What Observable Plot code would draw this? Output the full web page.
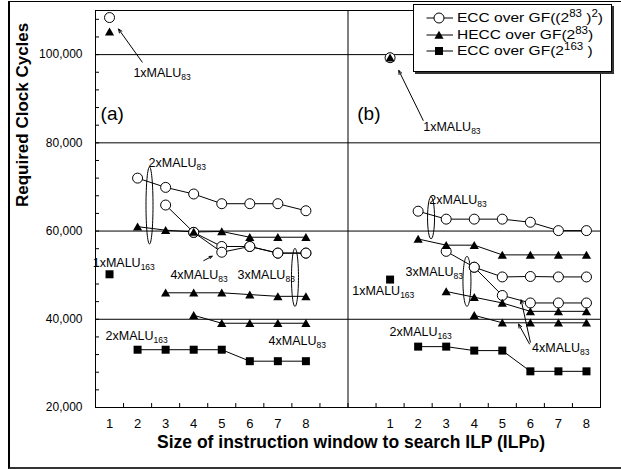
<!DOCTYPE html>
<html>
<head>
<meta charset="utf-8">
<script src="https://cdn.jsdelivr.net/npm/d3@7"></script>
<script src="https://cdn.jsdelivr.net/npm/@observablehq/plot@0.6"></script>
<style>
  body { margin: 0; background: #fff; font-family: "Liberation Sans", Arial, sans-serif; }
  #wrap { position: relative; width: 621px; height: 469px; overflow: hidden; background: #fff; }
  #chart svg { display: block; }
  #frame { position: absolute; left: 8px; top: 1px; width: 640px; height: 468px; box-sizing: border-box;
           border-left: 2px solid #000; border-top: 1px solid #000; border-bottom: 2px solid #333; pointer-events: none; }
  #legend { position: absolute; left: 413px; top: 4px; width: 199px; height: 68px; box-sizing: border-box;
            border: 1px solid #000; background: #fff; box-shadow: 2px 2px 0 #333; }
  #legend .row { position: absolute; left: 0; height: 16px; line-height: 16px; white-space: nowrap; font-size: 13.5px; color: #000; }
  #legend .row svg { position: absolute; left: 12px; top: 0; }
  #legend .row span { position: absolute; left: 43px; top: 0; transform: scaleX(1.15); transform-origin: 0 50%; }
  #legend sup { font-size: 10px; vertical-align: 5px; line-height: 0; }
</style>
</head>
<body>
<div id="wrap"><div id="chart"></div><div id="frame"></div><div id="legend"></div></div>
<script>
// ---- tick labels / names ----
const xTickLabels = ["1", "2", "3", "4", "5", "6", "7", "8"];
const yTicks = [20000, 40000, 60000, 80000, 100000];
const seriesLabels = ["ECC over GF((2^{83} )^{2})", "HECC over GF(2^{83})", "ECC over GF(2^{163} )"];
const yTitle = "Required Clock Cycles";
const xTitle = "Size of instruction window to search ILP (ILP|D|)";

// ---- panel (a) : values by ILP, series start at ILP = number of MALUs ----
const a_ecc_1x    = [108400];
const a_hecc_1x   = [105200];
const a_ecc163_1x = [50200];
const a_ecc_2x    = [72000, 69900, 68400, 66200, 66200, 66200, 64600];
const a_ecc_3x    = [65900, 59700, 56500, 56500, 55000, 55000];
const a_ecc_4x    = [59700, 55200, 56500, 55000, 55000];
const a_hecc_2x   = [61000, 60200, 59800, 59900, 58600, 58600, 58600];
const a_hecc_3x   = [46000, 46000, 46000, 45600, 45200, 45200];
const a_hecc_4x   = [40900, 39100, 39100, 39100, 39100];
const a_ecc163_2x = [33100, 33100, 33100, 33100, 30500, 30500, 30500];

// ---- panel (b) ----
const b_ecc_1x    = [99300];
const b_hecc_1x   = [99300];
const b_ecc163_1x = [49000];
const b_ecc_2x    = [64500, 62700, 62700, 62700, 62000, 60100, 60100];
const b_ecc_3x    = [55400, 51800, 49600, 49700, 49600, 49600];
const b_ecc_4x    = [51800, 45400, 43700, 43700, 43700];
const b_hecc_2x   = [58200, 56800, 56800, 54600, 54600, 54600, 54600];
const b_hecc_3x   = [46300, 45000, 43700, 41800, 41800, 41800];
const b_hecc_4x   = [40900, 39200, 39200, 39200, 39200];
const b_ecc163_2x = [33800, 33800, 32900, 32900, 28200, 28200, 28200];

// ---- annotations (data coordinates: slot on shared x axis, cycles) ----
const annoLabels = [
  {x: 0.85, y: 95900, text: "1xMALU_83"},
  {x: 1.39, y: 75400, text: "2xMALU_83"},
  {x: -0.6, y: 52700, text: "1xMALU_163"},
  {x: 2.17, y: 50100, text: "4xMALU_83"},
  {x: 4.56, y: 50100, text: "3xMALU_83"},
  {x: 5.67, y: 35000, text: "4xMALU_83"},
  {x: -0.14, y: 36100, text: "2xMALU_163"},
  {x: 11.18, y: 83700, text: "1xMALU_83"},
  {x: 11.4, y: 67100, text: "2xMALU_83"},
  {x: 10.55, y: 50800, text: "3xMALU_83"},
  {x: 8.65, y: 46300, text: "1xMALU_163"},
  {x: 9.98, y: 37200, text: "2xMALU_163"},
  {x: 15.06, y: 33400, text: "4xMALU_83"}
];
const panelLabels = [
  {x: -0.32, y: 86600, text: "(a)"},
  {x: 8.83, y: 86600, text: "(b)"}
];
const arrows = [
  {x1: 1.165, y1: 98300, x2: 0.32, y2: 105800},
  {x1: 3.36, y1: 53300, x2: 3.66, y2: 54300},
  {x1: 11.18, y1: 85100, x2: 10.31, y2: 96400},
  {x1: 15.0, y1: 34800, x2: 14.67, y2: 44400},
  {x1: 14.97, y1: 34400, x2: 14.58, y2: 38900}
];
const ellipses = [
  {x: 1.425, y: 65800, rx: 3.5, ry: 38.5},
  {x: 6.61, y: 49500, rx: 3.5, ry: 29},
  {x: 11.46, y: 63000, rx: 3.5, ry: 21},
  {x: 12.74, y: 48600, rx: 4, ry: 25}
];

// ---- build rows ----
function series(panel, kind, malu, firstIlp, values) {
  return values.map((v, i) => ({panel, kind, key: panel + "-" + kind + "-" + malu, ilp: firstIlp + i, value: v}));
}
const rows = [
  ...series("a", "ecc", 1, 1, a_ecc_1x), ...series("a", "hecc", 1, 1, a_hecc_1x), ...series("a", "ecc163", 1, 1, a_ecc163_1x),
  ...series("a", "ecc", 2, 2, a_ecc_2x), ...series("a", "ecc", 3, 3, a_ecc_3x), ...series("a", "ecc", 4, 4, a_ecc_4x),
  ...series("a", "hecc", 2, 2, a_hecc_2x), ...series("a", "hecc", 3, 3, a_hecc_3x), ...series("a", "hecc", 4, 4, a_hecc_4x),
  ...series("a", "ecc163", 2, 2, a_ecc163_2x),
  ...series("b", "ecc", 1, 1, b_ecc_1x), ...series("b", "hecc", 1, 1, b_hecc_1x), ...series("b", "ecc163", 1, 1, b_ecc163_1x),
  ...series("b", "ecc", 2, 2, b_ecc_2x), ...series("b", "ecc", 3, 3, b_ecc_3x), ...series("b", "ecc", 4, 4, b_ecc_4x),
  ...series("b", "hecc", 2, 2, b_hecc_2x), ...series("b", "hecc", 3, 3, b_hecc_3x), ...series("b", "hecc", 4, 4, b_hecc_4x),
  ...series("b", "ecc163", 2, 2, b_ecc163_2x)
].map(d => ({...d, slot: d.panel === "a" ? d.ilp - 1 : d.ilp + 9}));

const xTickPos = [...xTickLabels.map((_, i) => i), ...xTickLabels.map((_, i) => i + 10)];
const xFmt = d => d < 9 ? xTickLabels[d] : xTickLabels[d - 10];

// ---- symbols ----
const triSym = {draw(ctx) { ctx.moveTo(0, -4.2); ctx.lineTo(4.6, 3.8); ctx.lineTo(-4.6, 3.8); ctx.closePath(); }};
const sqSym = {draw(ctx) { ctx.moveTo(-4, -4); ctx.lineTo(4, -4); ctx.lineTo(4, 4); ctx.lineTo(-4, 4); ctx.closePath(); }};
function ellipseSym(rx, ry) {
  const k = 0.5523;
  return {draw(ctx) {
    ctx.moveTo(rx, 0);
    ctx.bezierCurveTo(rx, k * ry, k * rx, ry, 0, ry);
    ctx.bezierCurveTo(-k * rx, ry, -rx, k * ry, -rx, 0);
    ctx.bezierCurveTo(-rx, -k * ry, -k * rx, -ry, 0, -ry);
    ctx.bezierCurveTo(k * rx, -ry, rx, -k * ry, rx, 0);
    ctx.closePath();
  }};
}

const chart = Plot.plot({
  width: 621, height: 469,
  marginLeft: 95, marginRight: 21, marginTop: 10, marginBottom: 62,
  x: {domain: [-0.5, 17.5]},
  y: {domain: [20000, 110000]},
  style: {fontFamily: "'Liberation Sans', Arial, sans-serif", fontSize: "12px", background: "transparent", color: "#000"},
  marks: [
    Plot.ruleY(yTicks.slice(1), {stroke: "#000", strokeWidth: 1}),
    Plot.ruleX([8.5], {stroke: "#000", strokeWidth: 1}),
    Plot.tickY(d3.range(20000, 110001, 4000), {y: d => d, insetRight: 501, stroke: "#000"}),
    Plot.tickX(d3.range(0.5, 17, 1), {x: d => d, insetTop: 393, stroke: "#000"}),
    Plot.frame({stroke: "#000"}),
    Plot.line(rows, {x: "slot", y: "value", z: "key", stroke: "#000", strokeWidth: 1}),
    ...ellipses.map(e => Plot.dot([e], {x: "x", y: "y", r: 3, symbol: ellipseSym(e.rx, e.ry), fill: "none", stroke: "#000", strokeWidth: 1})),
    Plot.arrow(arrows, {x1: "x1", y1: "y1", x2: "x2", y2: "y2", stroke: "#000", strokeWidth: 1, headLength: 6, headAngle: 45}),
    Plot.dot(rows.filter(d => d.kind === "ecc"), {x: "slot", y: "value", r: 5, fill: "#fff", stroke: "#000", strokeWidth: 1}),
    Plot.dot(rows.filter(d => d.kind === "hecc"), {x: "slot", y: "value", r: 4, symbol: triSym, fill: "#000", stroke: "none"}),
    Plot.dot(rows.filter(d => d.kind === "ecc163"), {x: "slot", y: "value", r: 4, symbol: sqSym, fill: "#000", stroke: "none"}),
    Plot.text(annoLabels, {x: "x", y: "y", text: "text", textAnchor: "start", fontSize: 12.5, fill: "#000"}),
    Plot.text(panelLabels, {x: "x", y: "y", text: "text", textAnchor: "start", fontSize: 19, fill: "#000"}),
    Plot.axisY({ticks: yTicks, tickSize: 0, tickPadding: 13, tickFormat: d3.format(","), fontSize: 12, label: null}),
    Plot.axisX({ticks: xTickPos, tickSize: 0, tickPadding: 11, tickFormat: xFmt, fontSize: 13, label: null}),
    Plot.text([yTitle], {text: d => d, frameAnchor: "left", dx: -73, dy: -2, rotate: -90, fontSize: 17, fontWeight: "bold", fill: "#000"}),
    Plot.text([xTitle], {text: d => d, frameAnchor: "bottom", dx: 3, dy: 40, fontSize: 17.5, fontWeight: "bold", fill: "#000"})
  ]
});
document.getElementById("chart").appendChild(chart);

// subscripts / small letters as real text tspans
const NS = "http://www.w3.org/2000/svg";
chart.querySelectorAll("text").forEach(t => {
  const s = t.textContent;
  if (s.includes("_")) {
    const [main, sub] = s.split("_");
    t.textContent = main;
    const ts = document.createElementNS(NS, "tspan");
    ts.setAttribute("font-size", "8.5");
    ts.setAttribute("dy", "3");
    ts.textContent = sub;
    t.appendChild(ts);
  } else if (s.includes("|")) {
    const [a, b, c] = s.split("|");
    t.textContent = a;
    const ts = document.createElementNS(NS, "tspan");
    ts.setAttribute("font-size", "12.5");
    ts.textContent = b;
    t.appendChild(ts);
    t.appendChild(document.createTextNode(c));
  }
});

// legend
const legend = document.getElementById("legend");
const kinds = ["ecc", "hecc", "ecc163"];
seriesLabels.forEach((lab, i) => {
  const row = document.createElement("div");
  row.className = "row";
  row.style.top = (5.3 + i * 16.4) + "px";
  let marker;
  if (kinds[i] === "ecc") marker = '<circle cx="13" cy="8" r="5" fill="#fff" stroke="#000"/>';
  else if (kinds[i] === "hecc") marker = '<path d="M13,3.8L17.6,11.8L8.4,11.8Z" fill="#000"/>';
  else marker = '<rect x="9" y="4" width="8" height="8" fill="#000"/>';
  row.innerHTML = '<svg width="28" height="16"><line x1="0.5" x2="27" y1="8" y2="8" stroke="#000"/>' + marker + '</svg>' +
    '<span>' + lab.replace(/\^\{([^}]*)\}/g, "<sup>$1</sup>") + '</span>';
  legend.appendChild(row);
});
</script>
</body>
</html>
